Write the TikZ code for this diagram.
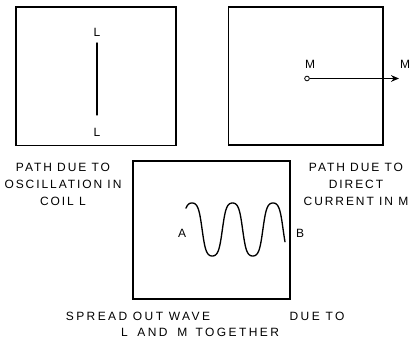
\documentclass[tikz,border=0pt]{standalone}
\usepackage{fontspec}
\setmainfont{Liberation Sans}[LetterSpace=16]
\usetikzlibrary{arrows.meta}

\begin{document}
\begin{tikzpicture}[x=0.75pt, y=-0.75pt,
  screen/.style={rectangle, draw=black, line width=1pt, inner sep=0pt},
  caption/.style={font=\fontsize{9}{13}\selectfont, align=center, text=black},
  wide/.style={font=\fontsize{9}{13}\selectfont\addfontfeatures{LetterSpace=20}},
  lbl/.style={font=\fontsize{9}{10}\selectfont, inner sep=1pt},
  trace/.style={line width=1pt, line cap=round},
  declare function={wv(\t)=229.5-26.5*tanh(1.6*cos(8.8889*(\t-192)))/0.9217;}
]
\useasboundingbox (0,0) rectangle (416,341);

% the three screens
\node[screen, minimum width=120pt, minimum height=104pt] (scrL) at (96,76.5) {};
\node[screen, minimum width=116pt, minimum height=103.5pt] (scrM) at (305.5,76) {};
\node[screen, minimum width=117.75pt, minimum height=103.5pt] (scrLM) at (211.5,230) {};

% oscillation in coil L
\node[lbl] (Ltop) at (97,32) {L};
\node[lbl] (Lbot) at (97,132) {L};
\draw[trace] (97,43) -- (97,115);

% direct current in M
\node[circle, draw, line width=0.6pt, inner sep=0pt, minimum size=3.5pt, fill=white] (Mdot) at (307,78.5) {};
\node[lbl] (Min) at (310,64) {M};
\node[lbl] (Mout) at (405,64) {M};
\coordinate (Mend) at (399,78.5);
\draw[line width=1pt, -{Stealth[length=6pt, width=5pt]}] (Mdot) -- (Mend);

% spread out wave
\node[lbl] (A) at (182,233) {A};
\node[lbl] (B) at (300,233) {B};
\draw[trace, smooth, samples=160, domain=186:285] plot (\x, {wv(\x)});

% captions
\node[caption] (capL) at (63,184.5) {PATH DUE TO\\OSCILLATION IN\\COIL L};
\node[caption] (capM) at (356,184.5) {PATH DUE TO\\DIRECT\\CURRENT IN M};
\node[caption, wide] (capW1) at (138,316) {SPREAD OUT WAVE};
\node[caption, wide] (capW2) at (317,316) {DUE TO};
\node[caption, wide] (capW3) at (200,332.5) {L\hspace{3pt} AND\hspace{3pt} M\hspace{2pt} TOGETHER};

\end{tikzpicture}
\end{document}
